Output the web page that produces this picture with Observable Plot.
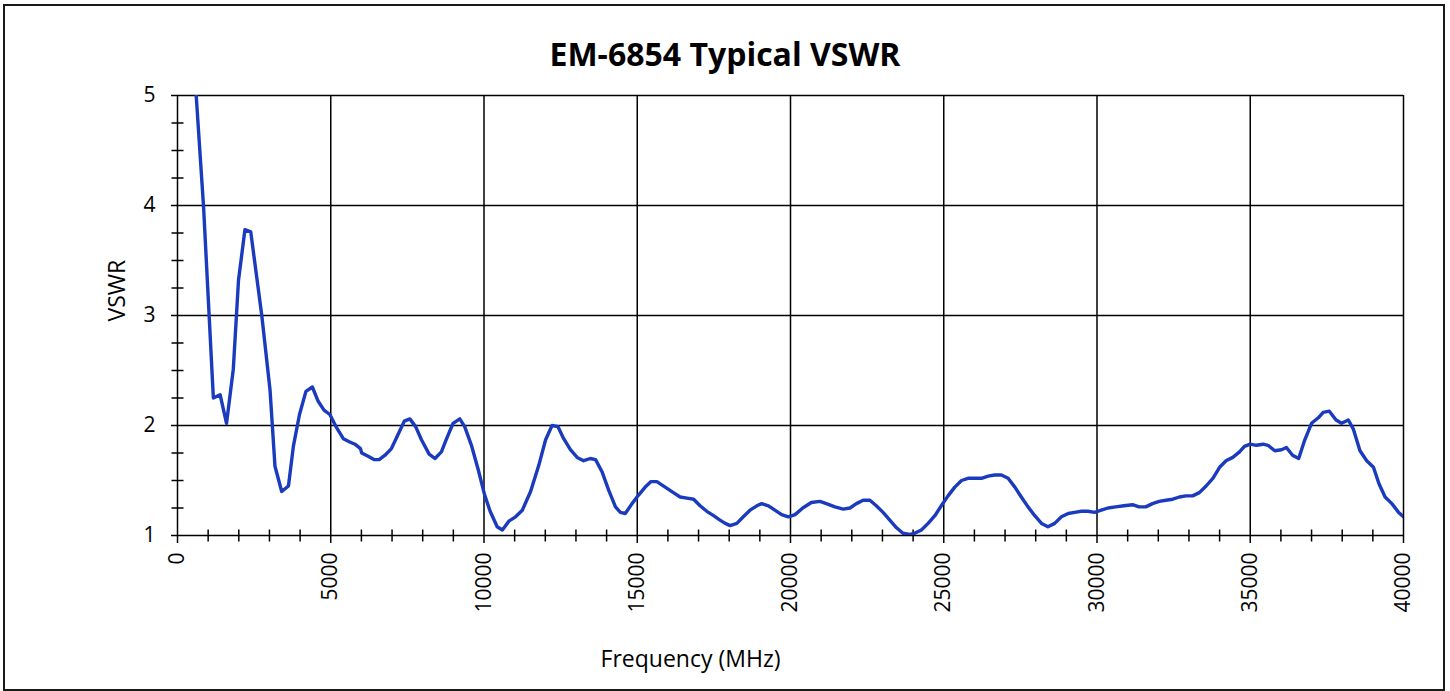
<!DOCTYPE html>
<html>
<head>
<meta charset="utf-8">
<script src="https://cdn.jsdelivr.net/npm/d3@7"></script>
<script src="https://cdn.jsdelivr.net/npm/@observablehq/plot@0.6"></script>
<style>
  html, body { margin: 0; padding: 0; background: #fff; }
  #wrap { position: relative; width: 1450px; height: 691px; overflow: hidden; }
  #frame { position: absolute; left: 3px; top: 4px; width: 1438px; height: 683px; border: 2px solid #1a1a1a; }
  #title { position: absolute; left: 0; width: 1450px; top: 38px; text-align: center;
           font-family: "Open Sans", sans-serif; font-weight: bold; font-size: 32px; line-height: 1; color: #000; }
  #wrap svg { position: absolute; left: 0; top: 0; }
</style>
</head>
<body>
<div id="wrap">
  <div id="frame"></div>
  <div id="title">EM-6854 Typical VSWR</div>
</div>
<script>
// Chart data
const frequencyMHz = [
  610, 850, 1170, 1390, 1600, 1820, 1990, 2200, 2390, 2750,
  3020, 3180, 3400, 3620, 3780, 3980, 4190, 4400, 4590, 4780,
  4970, 5190, 5410, 5620, 5790, 5970, 6010, 6220, 6410, 6580,
  6770, 6980, 7200, 7400, 7580, 7770, 7960, 8210, 8400, 8610,
  8780, 8990, 9210, 9370, 9590, 9810, 10020, 10200, 10430, 10600,
  10810, 11030, 11250, 11520, 11790, 12010, 12220, 12410, 12600, 12820,
  13040, 13250, 13470, 13640, 13850, 14070, 14290, 14450, 14610, 14830,
  15050, 15260, 15450, 15640, 15910, 16180, 16400, 16620, 16840, 17050,
  17270, 17490, 17700, 17870, 18030, 18250, 18460, 18680, 18900, 19060,
  19280, 19490, 19710, 19930, 20150, 20400, 20680, 20960, 21170, 21450,
  21720, 21940, 22150, 22370, 22590, 22800, 23020, 23240, 23460, 23670,
  23890, 24050, 24270, 24490, 24710, 24920, 25140, 25360, 25580, 25790,
  26010, 26230, 26450, 26660, 26880, 27100, 27320, 27530, 27750, 27970,
  28190, 28400, 28620, 28840, 29060, 29270, 29490, 29710, 29920, 30140,
  30360, 30610, 30880, 31160, 31370, 31590, 31810, 32030, 32250, 32470,
  32690, 32900, 33120, 33340, 33560, 33780, 34000, 34210, 34430, 34650,
  34810, 35000, 35200, 35420, 35580, 35800, 36020, 36180, 36380, 36580,
  36780, 37000, 37220, 37380, 37580, 37800, 37980, 38200, 38360, 38580,
  38800, 39020, 39200, 39400, 39620, 39840, 40000
];
const vswr = [
  5.00, 3.99, 2.25, 2.28, 2.02, 2.51, 3.32, 3.78, 3.76, 3.00,
  2.32, 1.63, 1.40, 1.45, 1.81, 2.10, 2.31, 2.35, 2.22, 2.14,
  2.10, 1.98, 1.88, 1.85, 1.83, 1.79, 1.75, 1.72, 1.69, 1.69,
  1.73, 1.79, 1.92, 2.04, 2.06, 1.99, 1.87, 1.74, 1.70, 1.76,
  1.88, 2.02, 2.06, 1.99, 1.82, 1.60, 1.37, 1.22, 1.08, 1.05,
  1.13, 1.17, 1.23, 1.40, 1.64, 1.87, 2.00, 1.99, 1.88, 1.78,
  1.71, 1.68, 1.70, 1.69, 1.58, 1.41, 1.26, 1.21, 1.20, 1.29,
  1.37, 1.44, 1.49, 1.49, 1.44, 1.39, 1.35, 1.34, 1.33, 1.27,
  1.22, 1.18, 1.14, 1.11, 1.09, 1.11, 1.17, 1.23, 1.27, 1.29,
  1.27, 1.23, 1.19, 1.17, 1.19, 1.25, 1.30, 1.31, 1.29, 1.26,
  1.24, 1.25, 1.29, 1.32, 1.32, 1.27, 1.21, 1.14, 1.07, 1.02,
  1.01, 1.02, 1.05, 1.11, 1.18, 1.27, 1.36, 1.44, 1.50, 1.52,
  1.52, 1.52, 1.54, 1.55, 1.55, 1.52, 1.44, 1.35, 1.26, 1.18,
  1.11, 1.08, 1.11, 1.17, 1.20, 1.21, 1.22, 1.22, 1.21, 1.23,
  1.25, 1.26, 1.27, 1.28, 1.26, 1.26, 1.29, 1.31, 1.32, 1.33,
  1.35, 1.36, 1.36, 1.39, 1.45, 1.52, 1.62, 1.68, 1.71, 1.76,
  1.81, 1.83, 1.82, 1.83, 1.82, 1.77, 1.78, 1.80, 1.73, 1.70,
  1.87, 2.02, 2.07, 2.12, 2.13, 2.05, 2.02, 2.05, 1.97, 1.77,
  1.68, 1.62, 1.47, 1.35, 1.29, 1.21, 1.17
];
const xMajorTicks = [0, 5000, 10000, 15000, 20000, 25000, 30000, 35000, 40000];
const xMinorTicks = [1000, 2000, 3000, 4000, 6000, 7000, 8000, 9000, 11000, 12000, 13000, 14000,
  16000, 17000, 18000, 19000, 21000, 22000, 23000, 24000, 26000, 27000, 28000, 29000,
  31000, 32000, 33000, 34000, 36000, 37000, 38000, 39000];
const yMajorTicks = [1, 2, 3, 4, 5];
const yMinorTicks = [1.25, 1.5, 1.75, 2.25, 2.5, 2.75, 3.25, 3.5, 3.75, 4.25, 4.5, 4.75];
const xLabel = "Frequency (MHz)";
const yLabel = "VSWR";

const data = frequencyMHz.map((f, i) => ({f, v: vswr[i]}));

const vTick = {draw(ctx) { ctx.moveTo(0, -6); ctx.lineTo(0, 6); }};
const hTick = {draw(ctx) { ctx.moveTo(-6, 0); ctx.lineTo(6, 0); }};

const chart = Plot.plot({
  width: 1450,
  height: 691,
  marginLeft: 177,
  marginRight: 47,
  marginTop: 95,
  marginBottom: 156,
  style: {fontFamily: "'Open Sans', sans-serif", fontSize: "21px", color: "#000", background: "transparent", overflow: "visible"},
  x: {domain: [0, 40000]},
  y: {domain: [1, 5]},
  marks: [
    Plot.gridX(xMajorTicks, {stroke: "#000", strokeOpacity: 1, strokeWidth: 1.5}),
    Plot.gridY(yMajorTicks, {stroke: "#000", strokeOpacity: 1, strokeWidth: 1.5}),
    Plot.axisX(xMajorTicks, {tickSize: 8, tickRotate: -90, tickPadding: 9, label: null, strokeWidth: 1.5, fontSize: 21, tickFormat: d => String(d)}),
    Plot.axisY(yMajorTicks, {tickSize: 6, tickPadding: 16, label: null, strokeWidth: 1.5, fontSize: 21, tickFormat: d => String(d)}),
    Plot.dot(xMinorTicks, {x: d => d, y: () => 1, symbol: vTick, stroke: "#000", strokeWidth: 1.5, fill: "none"}),
    Plot.dot(yMinorTicks, {x: () => 0, y: d => d, symbol: hTick, stroke: "#000", strokeWidth: 1.5, fill: "none"}),
    Plot.line(data, {x: "f", y: "v", stroke: "#1a3bbd", strokeWidth: 3.4, clip: true, strokeLinejoin: "round"}),
    Plot.text([yLabel], {frameAnchor: "left", dx: -60, dy: 6, rotate: -90, text: d => d, fontSize: 23, fill: "#000"}),
    Plot.text([xLabel], {frameAnchor: "bottom", dx: -100, dy: 131, text: d => d, fontSize: 23, fill: "#000"})
  ]
});
document.getElementById("wrap").appendChild(chart);
</script>
</body>
</html>
